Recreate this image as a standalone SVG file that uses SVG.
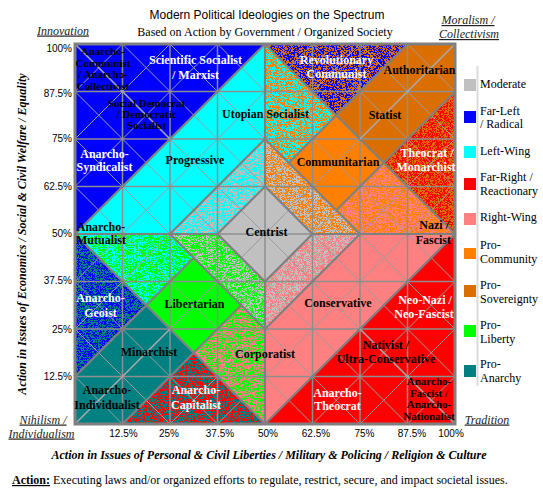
<svg xmlns="http://www.w3.org/2000/svg" width="543" height="495" viewBox="0 0 543 495">
<style>
.lb{font-family:"Liberation Serif","Times New Roman",serif;font-weight:bold;font-size:12px;text-anchor:middle}
.sm{font-size:11px}
.w{fill:#fff}
.k{fill:#000}
.lg{font-family:"Liberation Serif","Times New Roman",serif;font-size:12px;fill:#000}
.pc{font-family:"Liberation Sans",Arial,sans-serif;font-size:10px;fill:#000}
.cn{font-family:"Liberation Serif","Times New Roman",serif;font-style:italic;font-size:12px;fill:#222;text-anchor:middle;text-decoration:underline}
.ax{font-family:"Liberation Serif","Times New Roman",serif;font-style:italic;font-weight:bold;font-size:12px;fill:#000;text-anchor:middle}
.sp{filter:url(#sp)}
.thin{fill:none;stroke:#9c9c9c;stroke-width:1}
.gl{fill:none;stroke:#8e8e8e;stroke-width:1.5}
.thick{fill:none;stroke:#808080;stroke-width:2.2;stroke-linejoin:miter}
</style>
<defs>
<filter id="sp" filterUnits="userSpaceOnUse" x="70" y="40" width="390" height="390" color-interpolation-filters="sRGB">
<feTurbulence type="fractalNoise" baseFrequency="2.37" numOctaves="1" seed="7" result="n"/>
<feColorMatrix in="n" type="matrix" values="0 0 0 0 0  0 0 0 0 0  0 0 0 0 0  1 0 0 0 0" result="a"/>
<feComponentTransfer in="a" result="m"><feFuncA type="discrete" tableValues="0 1"/></feComponentTransfer>
<feComposite in="SourceGraphic" in2="m" operator="in"/>
</filter>
</defs>
<rect width="543" height="495" fill="#fff"/>

<text x="267" y="19" font-family="Liberation Sans, Arial, sans-serif" font-size="12" text-anchor="middle" fill="#000">Modern Political Ideologies on the Spectrum</text>
<text x="265" y="35.5" font-family="Liberation Serif, Times New Roman, serif" font-size="12" text-anchor="middle" fill="#000">Based on Action by Government / Organized Society</text>
<text class="cn" x="63" y="34.5">Innovation</text>
<text class="cn" x="468" y="24">Moralism /</text>
<text class="cn" x="469" y="38">Collectivism</text>
<text class="cn" x="43" y="423.5">Nihilism /</text>
<text class="cn" x="41.5" y="437.5">Individualism</text>
<text class="cn" x="487" y="423.5">Tradition</text>

<g id="regions">
<g id="far-left"><polygon points="75,44 265,44 75,234" fill="#0000FF"/></g>
<g id="pro-sovereignty"><polygon points="265,44 455,44 455,234" fill="#DA6F00"/></g>
<g id="far-right"><polygon points="455,234 455,424 265,424" fill="#FF0000"/></g>
<g id="pro-anarchy"><polygon points="75,234 265,424 75,424" fill="#008080"/></g>
<g id="left-wing"><polygon points="265,44 75,234 170,234 265,139" fill="#00FFFF"/></g>
<g id="right-wing"><polygon points="455,234 265,424 265,329 360,234" fill="#FF8080"/></g>
<g id="utopian-socialist"><polygon points="265,44 265,139 288.75,162.75 336.25,115.25" fill="#00FFFF"/><polygon class="sp" points="265,44 265,139 288.75,162.75 336.25,115.25" fill="#FF8000"/></g>
<g id="communitarian"><polygon points="288.75,162.75 336.25,115.25 383.75,162.75 336.25,210.25" fill="#FF8000"/></g>
<g id="nazi-fascist"><polygon points="383.75,162.75 455,234 360,234 336.25,210.25" fill="#FF8000"/><polygon class="sp" points="383.75,162.75 455,234 360,234 336.25,210.25" fill="#FF8080"/></g>
<g id="anarcho-mutualist"><polygon points="75,234 170,234 193.75,257.75 146.25,305.25" fill="#00FF00"/><polygon class="sp" points="75,234 170,234 193.75,257.75 146.25,305.25" fill="#00FFFF"/></g>
<g id="libertarian"><polygon points="146.25,305.25 193.75,257.75 241.25,305.25 193.75,352.75" fill="#00FF00"/></g>
<g id="corporatist"><polygon points="193.75,352.75 241.25,305.25 265,329 265,424" fill="#00FF00"/><polygon class="sp" points="193.75,352.75 241.25,305.25 265,329 265,424" fill="#FF8080"/></g>
<g id="moderate-ring">
<polygon points="265,139 360,234 265,329 170,234" fill="#C0C0C0"/>
<polygon class="sp" points="265,139 170,234 217.5,234 265,186.5" fill="#00FFFF"/>
<polygon class="sp" points="265,139 360,234 312.5,234 265,186.5" fill="#FF8000"/>
<polygon class="sp" points="170,234 265,329 265,281.5 217.5,234" fill="#00FF00"/>
<polygon class="sp" points="360,234 265,329 265,281.5 312.5,234" fill="#FF8080"/>
</g>
<g id="centrist"><polygon points="265,186.5 312.5,234 265,281.5 217.5,234" fill="#C0C0C0"/></g>
<g id="revolutionary-communist"><polygon class="sp" points="265,44 407.5,44 336.25,115.25" fill="#0000FF"/></g>
<g id="theocrat-monarchist"><polygon class="sp" points="455,91.5 455,234 383.75,162.75" fill="#FF0000"/></g>
<g id="anarcho-capitalist"><polygon class="sp" points="122.5,424 265,424 193.75,352.75" fill="#FF0000"/></g>
<g id="anarcho-geoist"><polygon class="sp" points="75,234 75,376.5 146.25,305.25" fill="#0000FF"/></g>
</g>

<g id="grid">
<path class="thin" d="M122.5,44L455,376.5M170,44L455,329M217.5,44L455,281.5M265,44L455,234M312.5,44L455,186.5M360,44L455,139M407.5,44L455,91.5M75,44L455,424M75,91.5L407.5,424M75,139L360,424M75,186.5L312.5,424M75,234L265,424M75,281.5L217.5,424M75,329L170,424M75,376.5L122.5,424M122.5,44L75,91.5M170,44L75,139M217.5,44L75,186.5M265,44L75,234M312.5,44L75,281.5M360,44L75,329M407.5,44L75,376.5M455,44L75,424M455,91.5L122.5,424M455,139L170,424M455,186.5L217.5,424M455,234L265,424M455,281.5L312.5,424M455,329L360,424M455,376.5L407.5,424"/>
<path class="gl" d="M122.5,44V424M170,44V424M217.5,44V424M265,44V424M312.5,44V424M360,44V424M407.5,44V424M75,91.5H455M75,139H455M75,186.5H455M75,234H455M75,281.5H455M75,329H455M75,376.5H455"/>
</g>
<g id="connectors">
<path class="thick" d="M265,44L455,234L265,424L75,234ZM265,139L360,234L265,329L170,234ZM265,186.5L312.5,234L265,281.5L217.5,234ZM265,44V186.5M265,281.5V424M75,234H217.5M312.5,234H455M336.25,115.25L288.75,162.75M383.75,162.75L336.25,210.25M146.25,305.25L193.75,257.75M193.75,352.75L241.25,305.25M336.25,115.25L407.5,44M455,91.5L383.75,162.75M122.5,424L193.75,352.75M75,376.5L146.25,305.25"/>
<path fill="none" stroke="#a8a8a8" stroke-width="1.6" d="M75,44L170,139M455,44L360,139M455,424L360,329M75,424L170,329"/>
<rect x="75" y="44" width="380" height="380" fill="none" stroke="#808080" stroke-width="3"/>
</g>

<g id="labels">
<g id="label-anarcho-communist"><text class="lb sm k" x="103"><tspan x="103" y="55">Anarcho-</tspan><tspan x="103" y="66.5">Communist</tspan><tspan x="103" y="78">/ Anarcho-</tspan><tspan x="103" y="89.5">Collectivist</tspan></text></g>
<g id="label-scientific-socialist"><text class="lb w"><tspan x="195.5" y="64">Scientific Socialist</tspan><tspan x="195.5" y="78.5">/ Marxist</tspan></text></g>
<g id="label-social-democrat"><text class="lb sm k"><tspan x="146.5" y="107">Social Democrat</tspan><tspan x="146.5" y="118">/ Democratic</tspan><tspan x="146.5" y="129">Socialist</tspan></text></g>
<g id="label-anarcho-syndicalist"><text class="lb w"><tspan x="104.5" y="158">Anarcho-</tspan><tspan x="104.5" y="171">Syndicalist</tspan></text></g>
<g id="label-utopian-socialist"><text class="lb k" x="265.5" y="118">Utopian Socialist</text></g>
<g id="label-revolutionary-communist"><text class="lb w"><tspan x="336.5" y="64">Revolutionary</tspan><tspan x="336.5" y="77.5">Communist</tspan></text></g>
<g id="label-authoritarian"><text class="lb k" x="419.5" y="73.5">Authoritarian</text></g>
<g id="label-statist"><text class="lb k" x="385" y="118.5">Statist</text></g>
<g id="label-communitarian"><text class="lb k" x="338" y="166">Communitarian</text></g>
<g id="label-theocrat"><text class="lb w"><tspan x="427" y="157">Theocrat /</tspan><tspan x="426" y="171">Monarchist</tspan></text></g>
<g id="label-progressive"><text class="lb k" x="195" y="164">Progressive</text></g>
<g id="label-anarcho-mutualist"><text class="lb k"><tspan x="101" y="231">Anarcho-</tspan><tspan x="101" y="243.5">Mutualist</tspan></text></g>
<g id="label-centrist"><text class="lb k" x="266.5" y="236">Centrist</text></g>
<g id="label-nazi"><text class="lb k" style="text-anchor:end"><tspan x="449" y="229">Nazi /</tspan><tspan x="451" y="244">Fascist</tspan></text></g>
<g id="label-anarcho-geoist"><text class="lb w"><tspan x="100.5" y="302">Anarcho-</tspan><tspan x="100.5" y="317">Geoist</tspan></text></g>
<g id="label-libertarian"><text class="lb k" x="194.5" y="308">Libertarian</text></g>
<g id="label-minarchist"><text class="lb k" x="149" y="356">Minarchist</text></g>
<g id="label-anarcho-individualist"><text class="lb k"><tspan x="107" y="394">Anarcho-</tspan><tspan x="107" y="409">Individualist</tspan></text></g>
<g id="label-anarcho-capitalist"><text class="lb w"><tspan x="196" y="394">Anarcho-</tspan><tspan x="196" y="409">Capitalist</tspan></text></g>
<g id="label-corporatist"><text class="lb k" x="265" y="358">Corporatist</text></g>
<g id="label-conservative"><text class="lb k" x="338" y="307">Conservative</text></g>
<g id="label-neo-nazi"><text class="lb w"><tspan x="425" y="304">Neo-Nazi /</tspan><tspan x="424" y="318">Neo-Fascist</tspan></text></g>
<g id="label-nativist"><text class="lb k"><tspan x="386" y="349">Nativist /</tspan><tspan x="386" y="362.5">Ultra-Conservative</tspan></text></g>
<g id="label-anarcho-theocrat"><text class="lb w"><tspan x="337.5" y="397">Anarcho-</tspan><tspan x="337.5" y="410">Theocrat</tspan></text></g>
<g id="label-anarcho-fascist"><text class="lb sm k"><tspan x="429" y="385">Anarcho-</tspan><tspan x="429" y="396.5">Fascist /</tspan><tspan x="429" y="408">Anarcho-</tspan><tspan x="429" y="420">Nationalist</tspan></text></g>
</g>

<g id="y-axis">
<text class="pc" text-anchor="end" x="72" y="52">100%</text>
<text class="pc" text-anchor="end" x="72" y="96.5">87.5%</text>
<text class="pc" text-anchor="end" x="72" y="142">75%</text>
<text class="pc" text-anchor="end" x="72" y="190">62.5%</text>
<text class="pc" text-anchor="end" x="72" y="237">50%</text>
<text class="pc" text-anchor="end" x="72" y="284">37.5%</text>
<text class="pc" text-anchor="end" x="72" y="333">25%</text>
<text class="pc" text-anchor="end" x="72" y="380">12.5%</text>
<text class="ax" transform="translate(26,234) rotate(-90)">Action in Issues of Economics / Social &amp; Civil Welfare / Equality</text>
</g>
<g id="x-axis">
<text class="pc" text-anchor="middle" x="123.5" y="437">12.5%</text>
<text class="pc" text-anchor="middle" x="169" y="437">25%</text>
<text class="pc" text-anchor="middle" x="220" y="437">37.5%</text>
<text class="pc" text-anchor="middle" x="268" y="437">50%</text>
<text class="pc" text-anchor="middle" x="316" y="437">62.5%</text>
<text class="pc" text-anchor="middle" x="364.5" y="437">75%</text>
<text class="pc" text-anchor="middle" x="412" y="437">87.5%</text>
<text class="pc" text-anchor="middle" x="451" y="437">100%</text>
<text class="ax" x="269" y="459">Action in Issues of Personal &amp; Civil Liberties / Military &amp; Policing / Religion &amp; Culture</text>
</g>

<g id="legend">
<line x1="477.5" y1="66" x2="477.5" y2="386" stroke="#dcdcdc" stroke-width="2"/>
<rect x="464" y="79" width="12" height="12" fill="#C0C0C0"/>
<text class="lg" x="480" y="88">Moderate</text>
<rect x="464" y="111" width="12" height="12" fill="#0000FF"/>
<text class="lg"><tspan x="480" y="114.5">Far-Left</tspan><tspan x="480" y="128">/ Radical</tspan></text>
<rect x="464" y="146" width="12" height="12" fill="#00FFFF"/>
<text class="lg" x="480" y="155">Left-Wing</text>
<rect x="464" y="178" width="12" height="12" fill="#FF0000"/>
<text class="lg"><tspan x="480" y="181">Far-Right /</tspan><tspan x="480" y="194.5">Reactionary</tspan></text>
<rect x="464" y="213" width="12" height="12" fill="#FF8080"/>
<text class="lg" x="480" y="221">Right-Wing</text>
<rect x="464" y="248" width="12" height="11" fill="#FF8000"/>
<text class="lg"><tspan x="480" y="249">Pro-</tspan><tspan x="480" y="262.5">Community</tspan></text>
<rect x="464" y="285" width="12" height="12" fill="#DA6F00"/>
<text class="lg"><tspan x="480" y="289">Pro-</tspan><tspan x="480" y="302.5">Sovereignty</tspan></text>
<rect x="464" y="325" width="12" height="12" fill="#00FF00"/>
<text class="lg"><tspan x="480" y="329">Pro-</tspan><tspan x="480" y="342.5">Liberty</tspan></text>
<rect x="464" y="365" width="12" height="12" fill="#008080"/>
<text class="lg"><tspan x="480" y="368">Pro-</tspan><tspan x="480" y="381.5">Anarchy</tspan></text>
</g>

<text x="12" y="484" font-family="Liberation Serif, Times New Roman, serif" font-size="12" fill="#000"><tspan font-weight="bold" text-decoration="underline">Action:</tspan> Executing laws and/or organized efforts to regulate, restrict, secure, and impact societal issues.</text>
</svg>
